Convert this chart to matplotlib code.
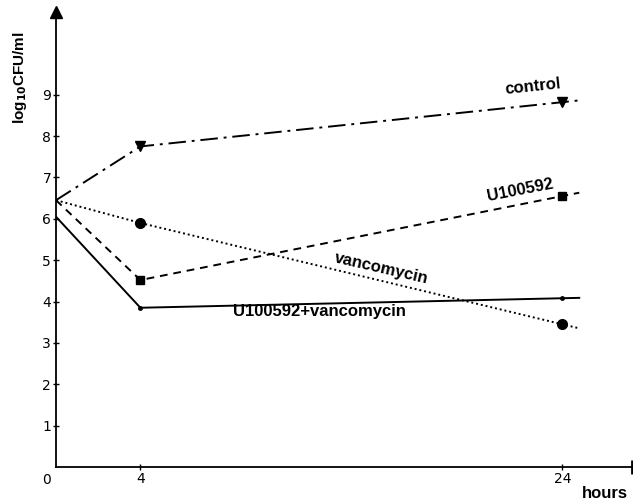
import matplotlib.pyplot as plt
import numpy as np

# Время (часы) и значения log10 CFU/ml
hours = np.array([0, 4, 24])
control = np.array([6.45, 7.75, 8.82])
u100592 = np.array([6.45, 4.52, 6.55])
vancomycin = np.array([6.45, 5.9, 3.45])
combo = np.array([6.05, 3.85, 4.08])

xticks = [4, 24]
yticks = [1, 2, 3, 4, 5, 6, 7, 8, 9]


def ext(x, y, dx=0.8):
    # продолжение последнего отрезка за точку 24 ч
    k = (y[-1] - y[-2]) / (x[-1] - x[-2])
    return np.append(x, x[-1] + dx), np.append(y, y[-1] + k * dx)


fig = plt.figure(figsize=(6.33, 5.03), dpi=100)
ax = fig.add_axes([56 / 633, 36 / 503, 576 / 633, 455 / 503])
ax.set_xlim(0, 27.3)
ax.set_ylim(0, 11.0)

styles = [
    (control, (0, (9, 3, 1.5, 3)), 'v', 7),
    (u100592, (0, (4, 3)), 's', 6),
    (vancomycin, (0, (1, 1.5)), 'o', 7),
    (combo, '-', 'o', 2.5),
]
for y, ls, m, ms in styles:
    xe, ye = ext(hours, y)
    ax.plot(xe, ye, color='black', linestyle=ls, linewidth=1.4)
    ax.plot(hours[1:], y[1:], linestyle='none', marker=m, markersize=ms, color='black')

# Подписи кривых
bold = dict(fontsize=12, fontweight='bold', family='Liberation Sans')
ax.text(22.6, 9.2, 'control', rotation=6, ha='center', va='center', **bold)
ax.text(22.0, 6.7, 'U100592', rotation=11, ha='center', va='center', **bold)
ax.text(15.4, 4.8, 'vancomycin', rotation=-13, ha='center', va='center', **bold)
ax.text(12.5, 3.75, 'U100592+vancomycin', ha='center', va='center', **bold)

ax.spines['top'].set_visible(False)
ax.spines['right'].set_visible(False)
ax.spines['left'].set_linewidth(1.3)
ax.spines['bottom'].set_linewidth(1.3)

ax.set_xticks(xticks)
ax.set_yticks(yticks)
ax.tick_params(direction='inout', length=5, width=1, labelsize=10, pad=1)

# Стрелка оси y и засечка в конце оси x
ax.plot(0, 1, marker='^', markersize=9, color='black', transform=ax.transAxes, clip_on=False)
ax.plot(1, 0, marker='|', markersize=10, markeredgewidth=2, color='black', transform=ax.transAxes, clip_on=False)

ax.text(-0.25, -0.15, '0', ha='right', va='top', fontsize=10)
fig.text(605 / 633, 2 / 503, 'hours', ha='center', va='bottom', fontsize=12,
         fontweight='bold', family='Liberation Sans')
fig.text(20 / 633, 1 - 78 / 503, r'log$_{\mathbf{10}}$CFU/ml', rotation=90, ha='center', va='center',
         fontsize=11, fontweight='bold', family='Liberation Sans')

plt.savefig('out.png')
